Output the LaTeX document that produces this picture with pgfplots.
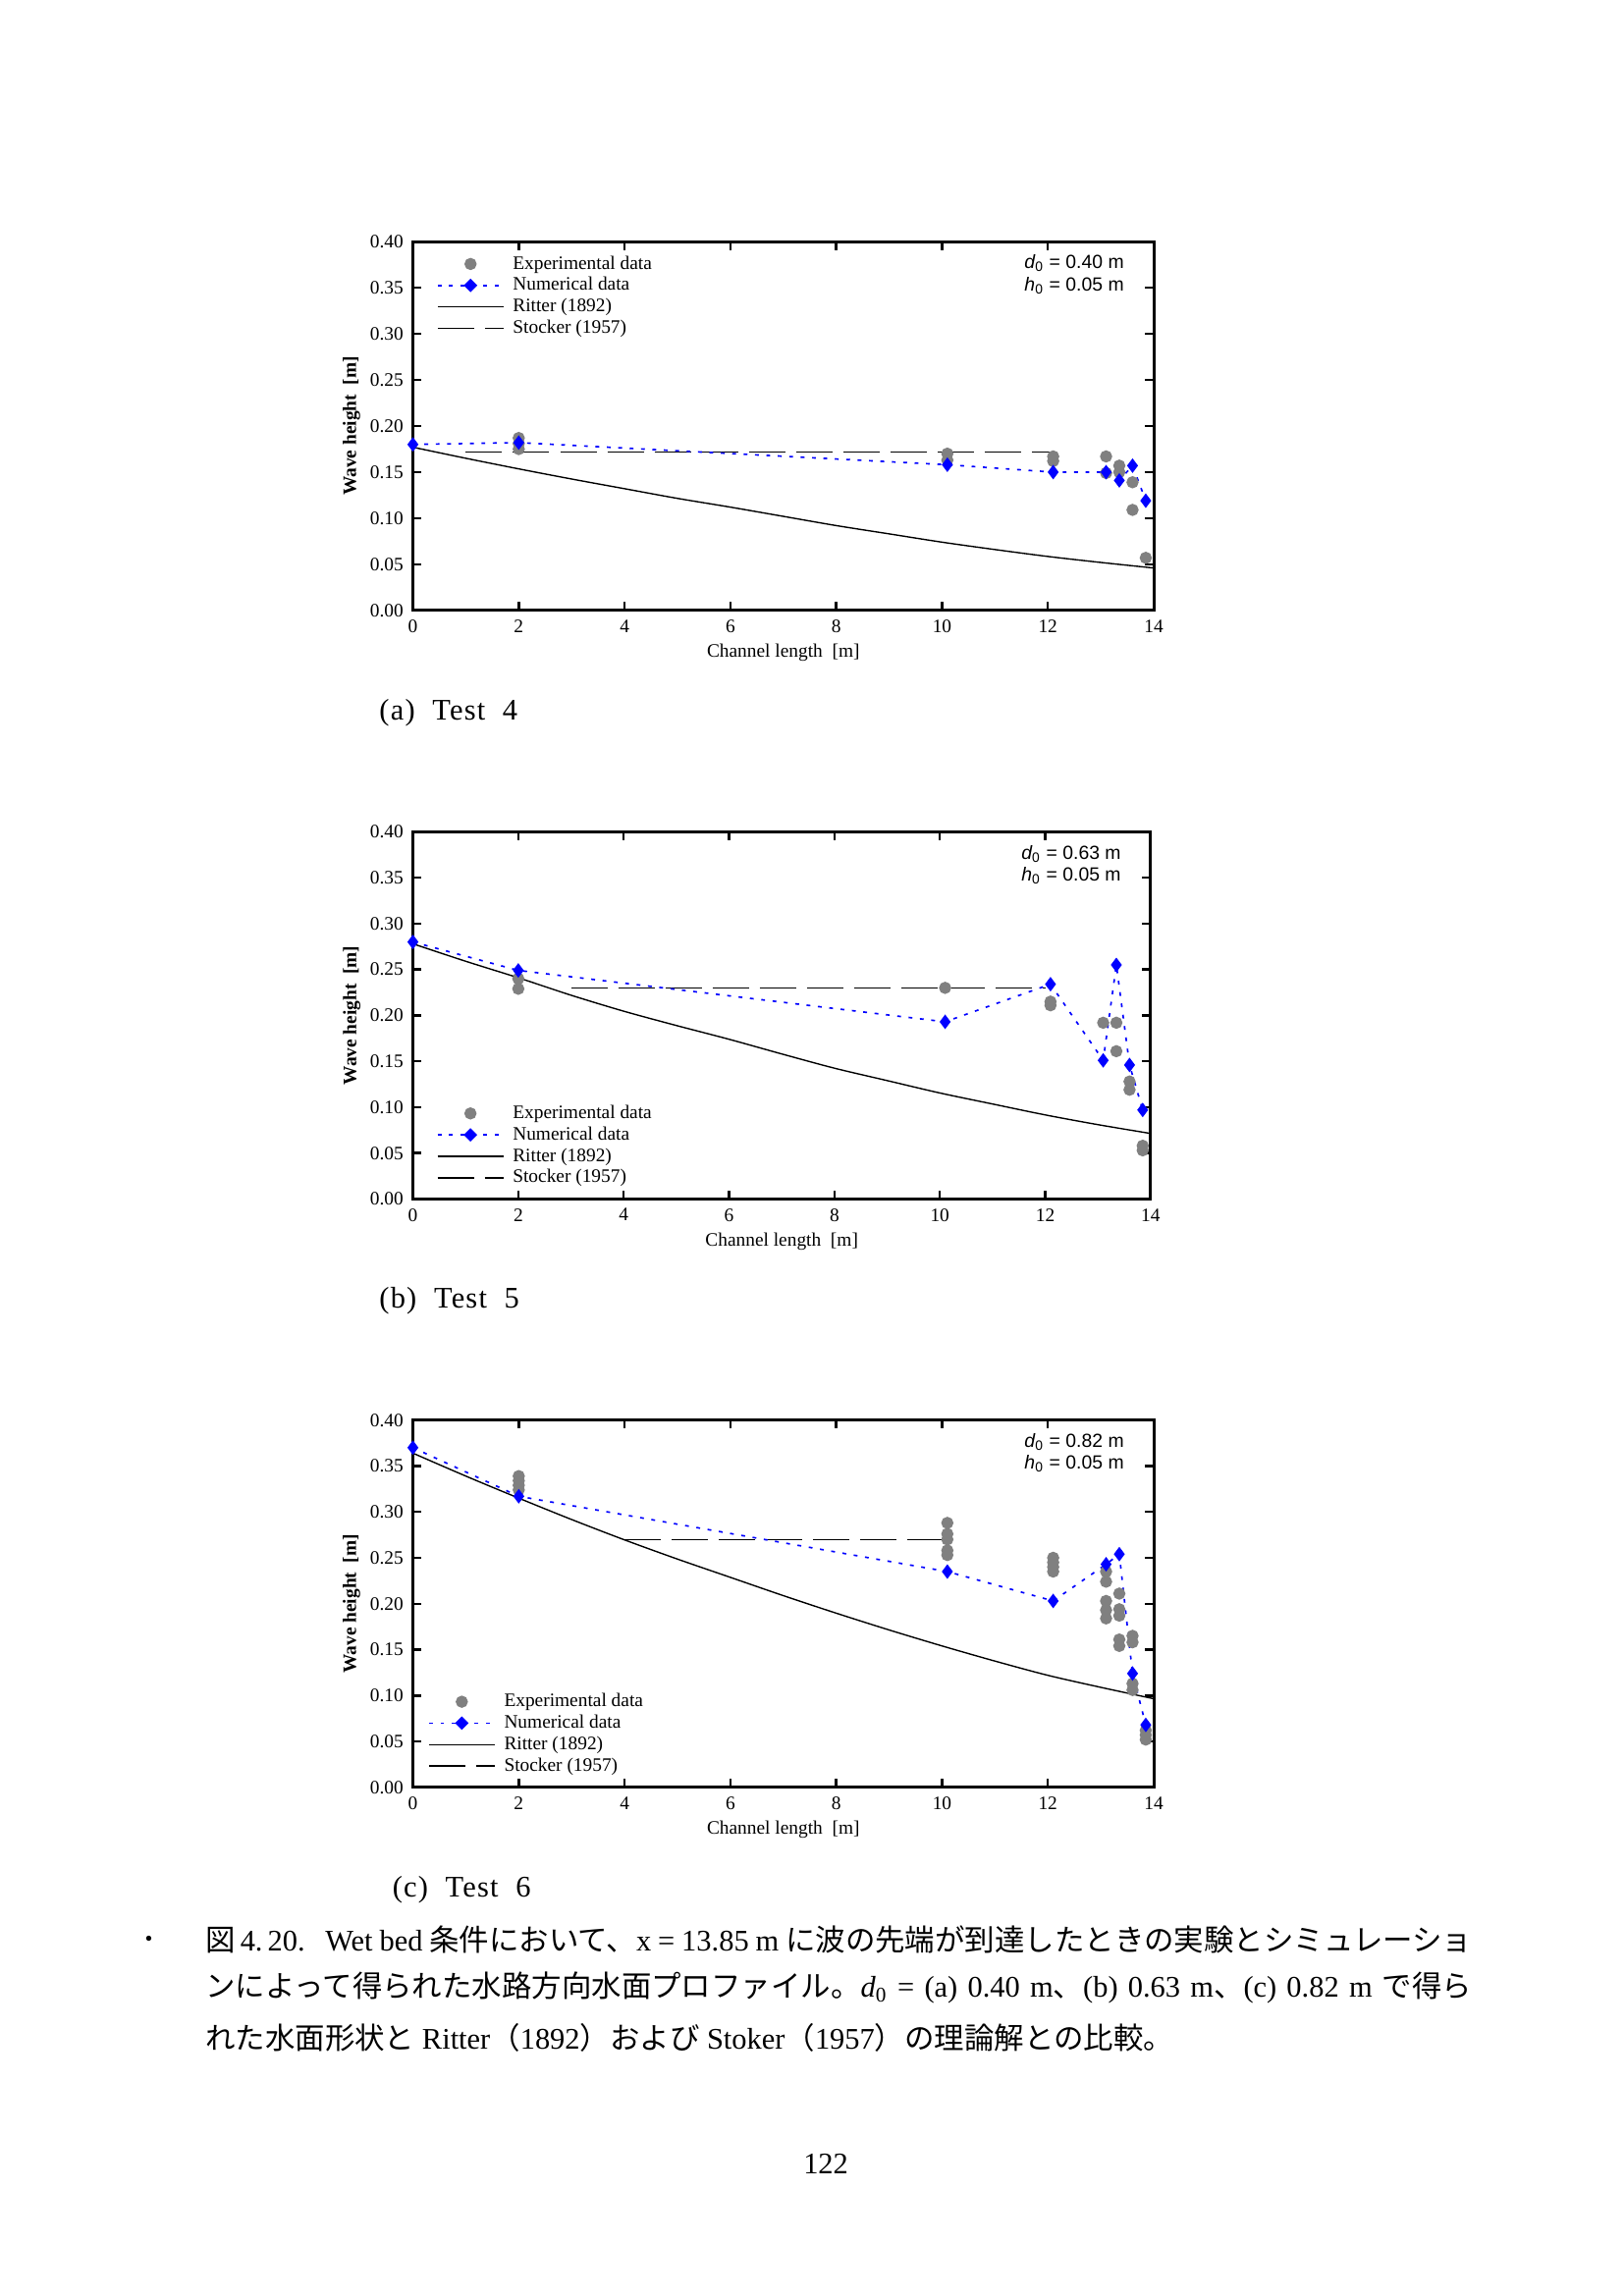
\documentclass[border=0pt]{standalone}
\usepackage{fontspec}
\setmainfont{Liberation Serif}
\newfontfamily\cjk{Noto Sans CJK JP}
\newfontfamily\arial{Liberation Sans}
\usepackage{pgfplots}
\pgfplotsset{compat=1.18}
\definecolor{expgray}{RGB}{128,128,128}
\definecolor{numblue}{RGB}{0,0,255}

\pgfplotsset{
  wavechart/.style={
    scale only axis, width=95.8mm, height=47.7mm,
    xmin=0, xmax=14, ymin=0, ymax=0.4,
    xtick={0,2,4,6,8,10,12,14},
    ytick={0,0.05,0.1,0.15,0.2,0.25,0.3,0.35,0.4},
    yticklabel style={/pgf/number format/fixed,/pgf/number format/fixed zerofill,/pgf/number format/precision=2},
    /pgf/number format/assume math mode=true,
    tick label style={font=\fontsize{7}{8}\selectfont},
    label style={font=\fontsize{7}{8}\selectfont},
    tick align=inside, major tick length=1.1mm,
    tick style={line width=0.9pt, black},
    axis line style={line width=1.1pt},
    xlabel={Channel length~~[m]},
    ylabel={\textbf{Wave height~~[m]}},
    xlabel style={at={(axis description cs:0.5,-0.115)}, anchor=center},
    ylabel style={at={(axis description cs:-0.083,0.5)}, anchor=center},
    legend cell align=left,
    legend style={draw=none, fill=none, font=\fontsize{7}{8}\selectfont,
      row sep=0pt, inner sep=0pt,
      nodes={inner sep=0.6pt, text height=5.2pt, text depth=1.5pt},
      /tikz/every odd column/.append style={column sep=2.6pt}},
    clip=false,
  },
  ritter/.style={black, line width=0.5pt, no marks, smooth},
  stoker/.style={black, line width=0.55pt, no marks, dash pattern=on 4.7mm off 1.4mm},
  expdata/.style={only marks, mark=*, mark size=2.05pt, color=expgray},
  numdata/.style={numblue, line width=0.6pt, dash pattern=on 1.4pt off 2.8pt, mark=diamond*, mark size=2.2pt, mark options={solid, fill=numblue, draw=numblue}},
}

\newcommand{\mylegend}{%
  \addlegendimage{legend image code/.code={\fill[expgray] (0.425cm,0cm) circle (2.05pt);}}
  \addlegendentry{Experimental data}
  \addlegendimage{legend image code/.code={\draw[numblue, line width=0.6pt, dash pattern=on 1.4pt off 2.8pt] (0cm,0cm) -- (0.85cm,0cm); \fill[numblue] (0.425cm,2.2pt) -- ++(2.2pt,-2.2pt) -- ++(-2.2pt,-2.2pt) -- ++(-2.2pt,2.2pt) -- cycle;}}
  \addlegendentry{Numerical data}
  \addlegendimage{legend image code/.code={\draw[black, line width=0.5pt] (0cm,0cm) -- (0.85cm,0cm);}}
  \addlegendentry{Ritter (1892)}
  \addlegendimage{legend image code/.code={\draw[black, line width=0.55pt, dash pattern=on 4.7mm off 1.4mm] (0cm,0cm) -- (0.85cm,0cm);}}
  \addlegendentry{Stocker (1957)}
}

\begin{document}
\begin{tikzpicture}
\useasboundingbox (0,0) rectangle (210mm,297mm);
\fill[white] (0,0) rectangle (210mm,297mm);

%% ---------------- (a) Test 4 ----------------
\begin{axis}[wavechart, at={(53.4mm,218.04mm)}, anchor=south west,
  legend style={at={(axis description cs:0.0316,0.97)}, anchor=north west}]
\mylegend
\addplot[ritter, forget plot] coordinates {(0,0.177)(1,0.165)(2,0.1535)(3,0.1425)(4,0.132)(5,0.1215)(6,0.112)(7,0.102)(8,0.092)(9,0.083)(10,0.074)(11,0.066)(12,0.0585)(13,0.052)(14,0.046)};
\addplot[stoker, forget plot] coordinates {(1.0,0.172)(12.05,0.172)};
\addplot[expdata, forget plot] coordinates {(2,0.187)(2,0.181)(2,0.175)(10.1,0.170)(10.1,0.163)(12.1,0.167)(12.1,0.162)(13.1,0.167)(13.1,0.149)(13.35,0.157)(13.35,0.150)(13.6,0.139)(13.6,0.109)(13.85,0.057)};
\addplot[numdata, forget plot] coordinates {(0,0.180)(2,0.182)(10.1,0.158)(12.1,0.150)(13.1,0.150)(13.35,0.141)(13.6,0.157)(13.85,0.119)};
\node[anchor=north east, align=right, font=\arial\fontsize{7}{8}\selectfont, inner sep=0pt] at (axis description cs:0.9605,0.965) {{\itshape d}\textsubscript{0} = 0.40 m\\{\itshape h}\textsubscript{0} = 0.05 m};
\end{axis}

%% ---------------- (b) Test 5 ----------------
\begin{axis}[wavechart, width=95.4mm, height=47.5mm, at={(53.4mm,141.9mm)}, anchor=south west,
  legend style={at={(axis description cs:0.0316,0.027)}, anchor=south west}]
\mylegend
\addplot[ritter, forget plot] coordinates {(0,0.278)(1,0.259)(2,0.241)(3,0.222)(4,0.2046)(5,0.189)(6,0.174)(7,0.158)(8,0.1425)(9,0.129)(10,0.1155)(11,0.1035)(12,0.0916)(13,0.081)(14,0.0714)};
\addplot[stoker, forget plot] coordinates {(3.0,0.23)(12.0,0.23)};
\addplot[expdata, forget plot] coordinates {(2,0.240)(2,0.229)(10.1,0.230)(12.1,0.215)(12.1,0.211)(13.1,0.192)(13.35,0.192)(13.35,0.161)(13.6,0.128)(13.6,0.119)(13.85,0.058)(13.85,0.053)};
\addplot[numdata, forget plot] coordinates {(0,0.280)(2,0.249)(10.1,0.193)(12.1,0.234)(13.1,0.151)(13.35,0.255)(13.6,0.146)(13.85,0.097)};
\node[anchor=north east, align=right, font=\arial\fontsize{7}{8}\selectfont, inner sep=0pt] at (axis description cs:0.9605,0.965) {{\itshape d}\textsubscript{0} = 0.63 m\\{\itshape h}\textsubscript{0} = 0.05 m};
\end{axis}

%% ---------------- (c) Test 6 ----------------
\begin{axis}[wavechart, height=47.5mm, at={(53.4mm,65.8mm)}, anchor=south west,
  legend style={at={(axis description cs:0.0198,0.027)}, anchor=south west}]
\mylegend
\addplot[ritter, forget plot] coordinates {(0,0.364)(1,0.339)(2,0.315)(3,0.2917)(4,0.2695)(5,0.2486)(6,0.2287)(7,0.2088)(8,0.1897)(9,0.1714)(10,0.154)(11,0.1375)(12,0.122)(13,0.1089)(14,0.0965)};
\addplot[stoker, forget plot] coordinates {(4.0,0.27)(10.05,0.27)};
\addplot[expdata, forget plot] coordinates {(2,0.339)(2,0.334)(2,0.329)(2,0.324)(10.1,0.288)(10.1,0.276)(10.1,0.270)(10.1,0.258)(10.1,0.253)(12.1,0.250)(12.1,0.245)(12.1,0.240)(12.1,0.235)(13.1,0.235)(13.1,0.224)(13.1,0.203)(13.1,0.193)(13.1,0.184)(13.35,0.211)(13.35,0.194)(13.35,0.187)(13.35,0.161)(13.35,0.154)(13.6,0.165)(13.6,0.158)(13.6,0.113)(13.6,0.106)(13.85,0.062)(13.85,0.057)(13.85,0.052)};
\addplot[numdata, forget plot] coordinates {(0,0.370)(2,0.317)(10.1,0.235)(12.1,0.203)(13.1,0.243)(13.35,0.254)(13.6,0.124)(13.85,0.068)};
\node[anchor=north east, align=right, font=\arial\fontsize{7}{8}\selectfont, inner sep=0pt] at (axis description cs:0.9605,0.965) {{\itshape d}\textsubscript{0} = 0.82 m\\{\itshape h}\textsubscript{0} = 0.05 m};
\end{axis}

%% ---------------- sub-captions ----------------
\node[anchor=west, inner sep=0pt, font=\fontsize{11}{13}\selectfont\addfontfeature{LetterSpace=4}] at (49.0mm,204.8mm) {(a)\ \ Test\ \ 4};
\node[anchor=west, inner sep=0pt, font=\fontsize{11}{13}\selectfont\addfontfeature{LetterSpace=4}] at (49.0mm,128.7mm) {(b)\ \ Test\ \ 5};
\node[anchor=west, inner sep=0pt, font=\fontsize{11}{13}\selectfont\addfontfeature{LetterSpace=4}] at (50.7mm,52.5mm) {(c)\ \ Test\ \ 6};

%% ---------------- figure caption ----------------
\node[anchor=center, inner sep=0pt, font=\fontsize{9}{10}\selectfont] at (19.3mm,45.8mm) {{\cjk ・}};
\node[anchor=west, inner sep=0pt, font=\fontsize{11}{13}\selectfont] at (26.5mm,46.1mm)
  {\makebox[163.8mm][s]{{\cjk 図}\,4.\,20.\ \ \ Wet bed {\cjk 条件において、}x = 13.85 m {\cjk に波の先端が到達したときの実験とシミュレーショ}}};
\node[anchor=west, inner sep=0pt, font=\fontsize{11}{13}\selectfont] at (26.5mm,39.85mm)
  {\makebox[163.8mm][s]{{\cjk ンによって得られた水路方向水面プロファイル。}{\itshape d}\textsubscript{0} = (a) 0.40 m{\cjk 、}(b) 0.63 m{\cjk 、}(c) 0.82 m {\cjk で得ら}}};
\node[anchor=west, inner sep=0pt, font=\fontsize{11}{13}\selectfont] at (26.5mm,33.4mm)
  {{\cjk れた水面形状と} Ritter{\cjk （}1892{\cjk ）}{\cjk および} Stoker{\cjk （}1957{\cjk ）}{\cjk の理論解との比較。}};

%% ---------------- page number ----------------
\node[anchor=center, inner sep=0pt, font=\fontsize{11}{13}\selectfont] at (106.8mm,17.1mm) {122};
\end{tikzpicture}
\end{document}
